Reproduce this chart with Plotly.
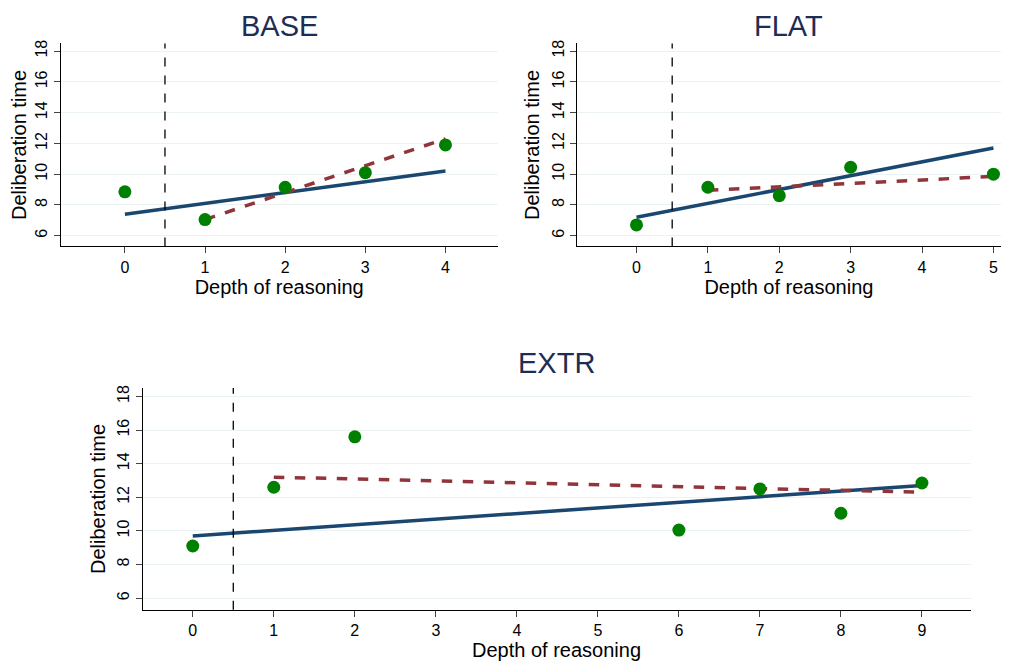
import plotly.graph_objects as go

# BASE
base_x = [0, 1, 2, 3, 4]
base_y = [8.85, 7.05, 9.15, 10.1, 11.9]
base_fit_all = ([0, 4], [7.4, 10.2])
base_fit_k1 = ([1, 4], [7.05, 12.3])
# FLAT
flat_x = [0, 1, 2, 3, 5]
flat_y = [6.7, 9.15, 8.6, 10.45, 10.0]
flat_fit_all = ([0, 5], [7.2, 11.7])
flat_fit_k1 = ([1, 5], [8.95, 9.85])
# EXTR
extr_x = [0, 1, 2, 6, 7, 8, 9]
extr_y = [9.1, 12.6, 15.6, 10.05, 12.5, 11.05, 12.85]
extr_fit_all = ([0, 9], [9.7, 12.7])
extr_fit_k1 = ([1, 9], [13.2, 12.3])

panels = [
    ("BASE", base_x, base_y, base_fit_all, base_fit_k1, [-0.8, 4.65], list(range(5)), [0.051, 0.473], [0.643, 0.947], 0.973),
    ("FLAT", flat_x, flat_y, flat_fit_all, flat_fit_k1, [-0.83, 5.1], list(range(6)), [0.550, 0.959], [0.643, 0.947], 0.973),
    ("EXTR", extr_x, extr_y, extr_fit_all, extr_fit_k1, [-0.62, 9.6], list(range(10)), [0.130, 0.930], [0.099, 0.431], 0.468),
]

fig = go.Figure()
font = "Liberation Sans, Arial, sans-serif"
for i, (name, px, py, fa, fk, xr, xt, xd, yd, ty) in enumerate(panels, start=1):
    xa = "x" if i == 1 else f"x{i}"
    ya = "y" if i == 1 else f"y{i}"
    fig.add_trace(go.Scatter(x=fa[0], y=fa[1], mode="lines", line=dict(color="#1a476f", width=3.5),
                             xaxis=xa, yaxis=ya, showlegend=False))
    fig.add_trace(go.Scatter(x=fk[0], y=fk[1], mode="lines", line=dict(color="#90353b", width=3.5, dash="dash"),
                             xaxis=xa, yaxis=ya, showlegend=False))
    fig.add_trace(go.Scatter(x=px, y=py, mode="markers", marker=dict(color="#008000", size=13),
                             xaxis=xa, yaxis=ya, showlegend=False))
    fig.add_shape(type="line", x0=0.5, x1=0.5, y0=0, y1=1, xref=xa, yref=f"{ya} domain",
                  line=dict(color="black", width=1.3, dash="dash"))
    fig.add_annotation(text=name, x=(xd[0] + xd[1]) / 2, y=ty, xref="paper", yref="paper",
                       xanchor="center", yanchor="middle", showarrow=False, font=dict(size=29, color="#1e2d53"))
    fig.layout["xaxis" if i == 1 else f"xaxis{i}"] = dict(
        domain=xd, anchor=ya, range=xr, tickvals=xt, showgrid=False, zeroline=False, automargin=False,
        showline=True, linecolor="black", ticks="outside", ticklen=6,
        title=dict(text="Depth of reasoning", standoff=2, font=dict(size=20)), tickfont=dict(size=16))
    fig.layout["yaxis" if i == 1 else f"yaxis{i}"] = dict(
        domain=yd, anchor=xa, range=[5.3, 18.5], tickvals=[6, 8, 10, 12, 14, 16, 18], tickangle=-90,
        showgrid=True, gridcolor="#eaf2f3", zeroline=False, showline=True, linecolor="black", automargin=False,
        ticks="outside", ticklen=6, title=dict(text="Deliberation time", standoff=4, font=dict(size=20)),
        tickfont=dict(size=16))

fig.update_layout(width=1035, height=668, margin=dict(l=0, r=0, t=0, b=0),
                  plot_bgcolor="white", paper_bgcolor="white", font=dict(family=font, color="black"))
fig.write_html("out.html")
